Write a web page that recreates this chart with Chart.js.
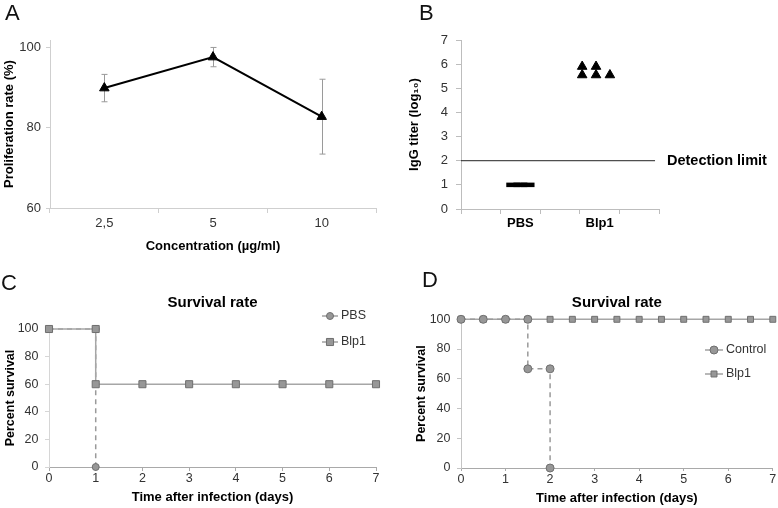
<!DOCTYPE html>
<html><head><meta charset="utf-8">
<script src="https://cdn.jsdelivr.net/npm/chart.js@4.4.0/dist/chart.umd.min.js"></script>
<style>
html,body{margin:0;padding:0;background:#fff;}
#page{position:relative;width:778px;height:508px;overflow:hidden;background:#fff;font-family:"Liberation Sans",Arial,sans-serif;}
canvas{position:absolute;}
.lbl{position:absolute;font-size:22px;line-height:22px;color:#111;}
</style></head><body>
<div id="page">
<canvas id="cA" width="385" height="258" style="left:0;top:0"></canvas>
<canvas id="cB" width="388" height="258" style="left:390px;top:0"></canvas>
<canvas id="cC" width="390" height="253" style="left:0;top:255px"></canvas>
<canvas id="cD" width="388" height="253" style="left:390px;top:255px"></canvas>
<div class="lbl" style="left:5px;top:2px">A</div>
<div class="lbl" style="left:419px;top:2px">B</div>
<div class="lbl" style="left:1px;top:272px">C</div>
<div class="lbl" style="left:422px;top:269px">D</div>
</div>
<script>
// ---------- DATA ----------
// Panel A
const concLabels = ['2,5', '5', '10'];
const prolifMean = [89.8, 97.5, 82.7];
const prolifErr = [3.4, 2.4, 9.3];
const prolifTicks = [60, 80, 100];
// Panel B
const igGroups = ['PBS', 'Blp1'];
const pbsTiter = [1, 1, 1];
const blpTiter = [5.9, 5.55, 5.9, 5.55, 5.55];
const detectionLimit = 2;
// Panel C
const timeC_PBS = [0, 1, 1];
const survC_PBS = [100, 100, 0];
const timeC_Blp = [0, 1, 1, 2, 3, 4, 5, 6, 7];
const survC_Blp = [100, 100, 60, 60, 60, 60, 60, 60, 60];
// Panel D
const timeD_Ctrl = [0, 0.5, 1, 1.5, 1.5, 2, 2];
const survD_Ctrl = [100, 100, 100, 100, 66.7, 66.7, 0];
const timeD_Blp = [0, 0.5, 1, 1.5, 2, 2.5, 3, 3.5, 4, 4.5, 5, 5.5, 6, 6.5, 7];
const survD_Blp = [100, 100, 100, 100, 100, 100, 100, 100, 100, 100, 100, 100, 100, 100, 100];

// ---------- LAYOUT / STYLE ----------
Chart.defaults.font.family = '"Liberation Sans", Arial, sans-serif';
Chart.defaults.color = '#333';
Chart.defaults.animation = false;
const FONT_T = '"Liberation Sans", Arial, sans-serif';
const pbsJitter = [-0.18, 0, 0.18];
const blpJitter = [-0.44, -0.44, -0.09, -0.09, 0.26];
const groupX = i => 1.5 + 2 * i;
const limitLineEnd = 4.9;
const zip = (xs, ys) => xs.map((x, i) => ({x: x, y: ys[i]}));

const errorBars = {
  id: 'errorBars',
  beforeDatasetsDraw(chart) {
    const ctx = chart.ctx, y = chart.scales.y;
    const meta = chart.getDatasetMeta(0);
    ctx.save();
    ctx.strokeStyle = '#9a9a9a'; ctx.lineWidth = 1;
    meta.data.forEach((pt, i) => {
      const px = Math.round(pt.x) + 0.5;
      const t = y.getPixelForValue(prolifMean[i] + prolifErr[i]);
      const b = y.getPixelForValue(prolifMean[i] - prolifErr[i]);
      ctx.beginPath();
      ctx.moveTo(px, t); ctx.lineTo(px, b);
      ctx.moveTo(px - 3, t); ctx.lineTo(px + 3, t);
      ctx.moveTo(px - 3, b); ctx.lineTo(px + 3, b);
      ctx.stroke();
    });
    ctx.restore();
  }
};

const limitLabel = {
  id: 'limitLabel',
  afterDraw(chart) {
    const ctx = chart.ctx;
    const y = chart.scales.y.getPixelForValue(detectionLimit);
    ctx.save();
    ctx.font = 'bold 14.5px ' + FONT_T;
    ctx.fillStyle = '#000';
    ctx.textBaseline = 'middle';
    ctx.fillText('Detection limit', chart.chartArea.right + 8, y);
    ctx.restore();
  }
};

const sideLegend = {
  id: 'sideLegend',
  afterDraw(chart, args, opts) {
    const ctx = chart.ctx;
    opts.items.forEach((idx, k) => {
      const ds = chart.data.datasets[idx];
      const y = opts.y + k * opts.gap;
      ctx.save();
      ctx.strokeStyle = '#a0a0a0'; ctx.lineWidth = 1.5;
      ctx.beginPath(); ctx.moveTo(opts.x, y); ctx.lineTo(opts.x + opts.len, y); ctx.stroke();
      ctx.fillStyle = ds.pointBackgroundColor; ctx.strokeStyle = ds.pointBorderColor;
      ctx.lineWidth = 1;
      Chart.helpers.drawPoint(ctx, {pointStyle: ds.pointStyle, radius: ds.pointRadius, borderWidth: 1, rotation: 0}, opts.x + opts.len / 2, y);
      ctx.font = '12.5px ' + FONT_T; ctx.fillStyle = '#333'; ctx.textBaseline = 'middle';
      ctx.fillText(ds.label, opts.x + opts.len + 3, y);
      ctx.restore();
    });
  }
};

const axisTitle = (text, size, pt, pb) => ({display: true, text: text, color: '#000',
  font: {size: size, weight: 'bold'}, padding: {top: pt, bottom: pb}});

// ---------- PANEL A ----------
new Chart(document.getElementById('cA'), {
  type: 'line',
  data: {labels: concLabels, datasets: [{
    data: prolifMean, borderColor: '#000', borderWidth: 2, tension: 0,
    pointStyle: 'triangle', pointRadius: 5.5, pointBackgroundColor: '#000', pointBorderColor: '#000',
    pointBorderWidth: 1, clip: false
  }]},
  options: {
    responsive: false, animation: false,
    layout: {padding: {top: 40, right: 9, left: 0, bottom: 0}},
    plugins: {legend: {display: false}, tooltip: {enabled: false}},
    scales: {
      x: {type: 'category', offset: true,
        grid: {offset: true, drawOnChartArea: false, tickLength: 5, color: '#cfcfcf'},
        border: {color: '#cfcfcf'},
        ticks: {font: {size: 13}, color: '#333', padding: 3},
        title: axisTitle('Concentration (µg/ml)', 13, 0, 4),
        afterFit: s => { s.height = 50; }
      },
      y: {min: 60, max: 101.75,
        afterBuildTicks: s => { s.ticks = prolifTicks.map(v => ({value: v})); },
        grid: {drawOnChartArea: false, tickLength: 4, color: '#cfcfcf'},
        border: {color: '#cfcfcf'},
        ticks: {font: {size: 13}, color: '#333', padding: 5},
        title: axisTitle('Proliferation rate (%)', 13, 2, 0),
        afterFit: s => { s.width = 50; }
      }
    }
  },
  plugins: [errorBars]
});

// ---------- PANEL B ----------
new Chart(document.getElementById('cB'), {
  type: 'scatter',
  data: {datasets: [
    {label: 'limit', type: 'line', data: [{x: 0, y: detectionLimit}, {x: limitLineEnd, y: detectionLimit}],
     borderColor: '#222', borderWidth: 1, pointRadius: 0, showLine: true, clip: false},
    {label: igGroups[0], data: pbsTiter.map((v, i) => ({x: groupX(0) + pbsJitter[i], y: v})),
     pointStyle: 'line', pointRadius: 7, pointBorderColor: '#000', pointBackgroundColor: '#000', pointBorderWidth: 4.5, clip: false},
    {label: igGroups[1], data: blpTiter.map((v, i) => ({x: groupX(1) + blpJitter[i], y: v})),
     pointStyle: 'triangle', pointRadius: 5.5, pointBorderColor: '#000', pointBackgroundColor: '#000', pointBorderWidth: 1, clip: false}
  ]},
  options: {
    responsive: false, animation: false,
    layout: {padding: {top: 40, right: 119, left: 0, bottom: 0}},
    plugins: {legend: {display: false}, tooltip: {enabled: false}},
    scales: {
      x: {type: 'linear', min: 0, max: 5,
        afterBuildTicks: s => {
          const v = [0, 1, 2, 3, 4, 5].concat(igGroups.map((g, i) => groupX(i))).sort((a, b) => a - b);
          s.ticks = v.map(t => ({value: t}));
        },
        grid: {drawOnChartArea: false, tickLength: 5,
          color: c => (c.tick && c.tick.value % 1 !== 0) ? 'rgba(0,0,0,0)' : '#bdbdbd'},
        border: {color: '#bdbdbd'},
        ticks: {autoSkip: false, maxRotation: 0, font: {size: 13, weight: 'bold'}, color: '#000', padding: 2,
          callback: v => { const i = (v - 1.5) / 2; return (Number.isInteger(i) && igGroups[i]) ? igGroups[i] : ''; }},
        afterFit: s => { s.height = 49; }
      },
      y: {min: 0, max: 7, ticks: {stepSize: 1, font: {size: 13}, color: '#333', padding: 8},
        grid: {drawOnChartArea: false, tickLength: 5, color: '#bdbdbd'},
        border: {color: '#bdbdbd'},
        title: axisTitle('IgG titer (log₁₀)', 13, 17, 0),
        afterFit: s => { s.width = 71; }
      }
    }
  },
  plugins: [limitLabel]
});

// ---------- PANEL C / D common ----------
const mk = (style, r) => ({pointStyle: style, pointRadius: r, pointBackgroundColor: '#979797', pointBorderColor: '#6f6f6f', pointBorderWidth: 1});

function survivalChart(id, dsets, cfg) {
  return new Chart(document.getElementById(id), {
    type: 'scatter',
    data: {datasets: dsets},
    options: {
      responsive: false, animation: false,
      layout: {padding: {top: 0, right: cfg.padRight, left: 0, bottom: 0}},
      plugins: {
        legend: {display: false}, tooltip: {enabled: false},
        title: {display: true, text: 'Survival rate', fullSize: false, color: '#000',
          font: {size: 15, weight: 'bold'}, padding: {top: 39, bottom: cfg.titlePadBottom}},
        sideLegend: cfg.legend
      },
      scales: {
        x: {type: 'linear', min: 0, max: 7, ticks: {stepSize: 1, font: {size: 12.5}, color: '#333', padding: cfg.xTickPad},
          grid: {drawOnChartArea: false, tickLength: cfg.xTickLen, color: '#a9a9a9'},
          border: {color: '#a9a9a9'},
          title: axisTitle('Time after infection (days)', 13, 0, cfg.xTitlePad),
          afterFit: s => { s.height = cfg.xHeight; }
        },
        y: {min: 0, max: 100, ticks: {stepSize: 20, font: {size: 12.5}, color: '#333', padding: 6.5},
          grid: {drawOnChartArea: false, tickLength: 4, color: cfg.yColor},
          border: {color: cfg.yColor},
          title: axisTitle('Percent survival', 12.5, cfg.yTitlePad, 0),
          afterFit: s => { s.width = cfg.yWidth; }
        }
      }
    },
    plugins: [sideLegend]
  });
}

// ---------- PANEL C ----------  (lower order = drawn on top)
survivalChart('cC', [
  Object.assign({label: 'PBS', data: zip(timeC_PBS, survC_PBS), showLine: true, borderColor: '#9a9a9a',
    borderWidth: 1.5, borderDash: [5, 4], order: 2, clip: false}, mk('circle', 3.5)),
  Object.assign({label: 'Blp1', data: zip(timeC_Blp, survC_Blp), showLine: true, borderColor: '#a6a6a6',
    borderWidth: 1.5, order: 1, clip: false}, mk('rect', 5))
], {padRight: 14, titlePadBottom: 17, xTickPad: 0, xTickLen: 4, xTitlePad: 2.5, xHeight: 41,
    yColor: '#d6d6d6', yTitlePad: 3.5, yWidth: 49,
    legend: {items: [0, 1], x: 322, y: 61, gap: 26, len: 16}});

// ---------- PANEL D ----------
survivalChart('cD', [
  Object.assign({label: 'Control', data: zip(timeD_Ctrl, survD_Ctrl), showLine: true, borderColor: '#9a9a9a',
    borderWidth: 1.5, borderDash: [5, 4], order: 1, clip: false}, mk('circle', 4)),
  Object.assign({label: 'Blp1', data: zip(timeD_Blp, survD_Blp), showLine: true, borderColor: '#a6a6a6',
    borderWidth: 1.5, order: 2, clip: false}, mk('rect', 4.2))
], {padRight: 4, titlePadBottom: 7.3, xTickPad: 1, xTickLen: 3, xTitlePad: 2, xHeight: 40,
    yColor: '#c4c4c4', yTitlePad: 24.5, yWidth: 71,
    legend: {items: [0, 1], x: 315, y: 95, gap: 24, len: 18}});
</script>
</body></html>
